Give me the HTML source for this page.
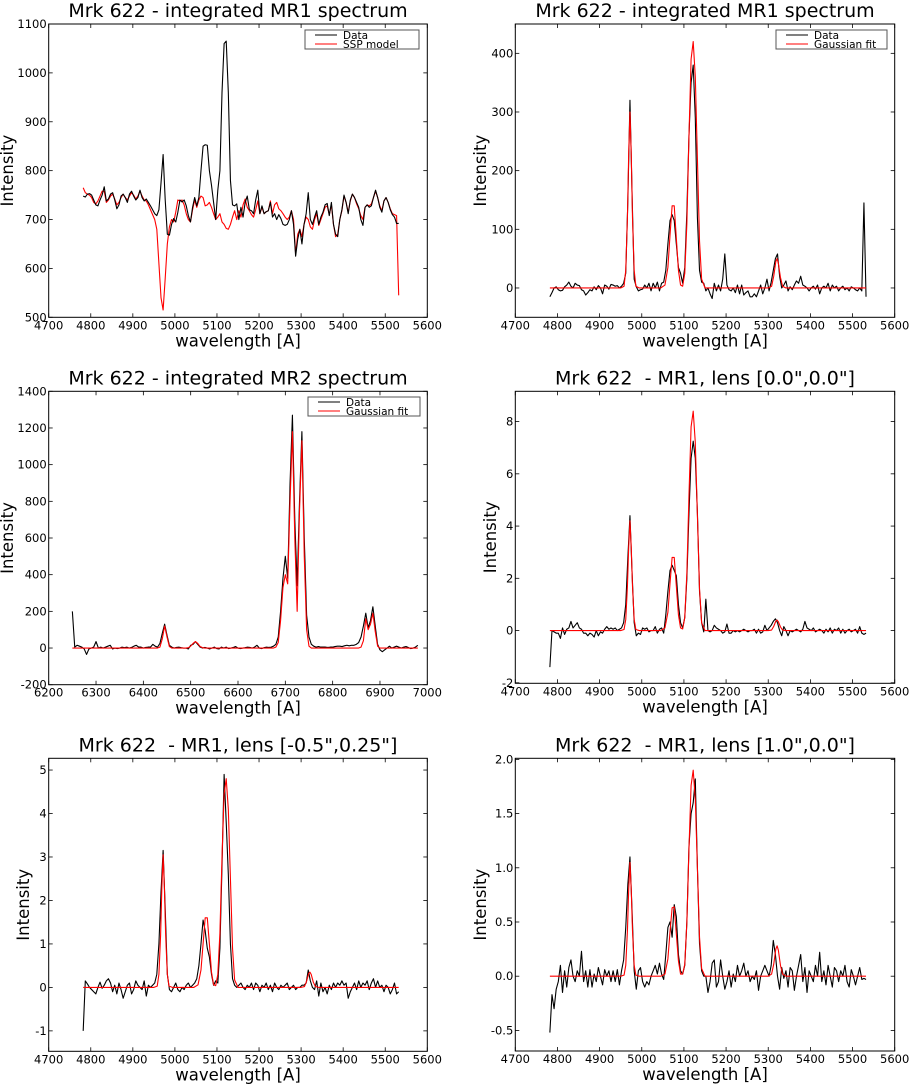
<!DOCTYPE html>
<html><head><meta charset="utf-8">
<style>
html,body{margin:0;padding:0;background:#fff;}
svg{display:block;font-family:"DejaVu Sans","Liberation Sans",sans-serif;}
text{white-space:pre;}
</style></head>
<body>
<svg id="fig" width="910" height="1084" viewBox="0 0 910 1084" xmlns="http://www.w3.org/2000/svg"></svg>
<script>
// Shared wavelength grid for MR1 panels (4782..5532 step 5)
const mr1Wl = [];
for (let w = 4782; w <= 5532; w += 5) mr1Wl.push(w);
// Shared wavelength grid for MR2 panel (6250..6980 step 5)
const mr2Wl = [];
for (let w = 6250; w <= 6980; w += 5) mr2Wl.push(w);
// Sparse wavelengths for Gaussian fits
const fitWl = [4782,4950,4958,4962,4966,4969,4972,4975,4978,4982,4986,4994,5045,5055,5062,5067,5072,5077,5082,5087,5092,5097,5102,5107,5112,5117,5122,5127,5132,5137,5142,5150,5300,5308,5313,5318,5321,5324,5329,5334,5342,5532];

const p1Data = [748,746,752,753,750,740,730,728,740,750, 767,738,742,752,755,740,722,730,748,752, 745,735,752,758,748,740,745,760,745,738, 742,735,728,720,712,708,720,775,833,740, 670,668,690,702,695,715,740,736,740,728, 708,695,725,745,728,745,800,850,853,852, 800,770,735,700,760,800,960,1060,1065,960, 780,730,728,732,700,725,705,735,748,720, 718,712,740,760,712,728,712,716,718,735, 705,712,700,710,702,690,688,690,700,718, 690,625,660,680,650,690,712,755,700,690, 705,718,690,705,715,730,733,708,735,690, 670,665,700,720,750,735,712,740,752,745, 735,725,700,688,725,730,725,728,745,760, 745,725,715,738,745,735,720,710,705,692,692];
const p1Ssp = [765,755,752,750,745,735,732,738,748,758, 758,735,740,748,752,742,730,735,745,752, 745,740,748,755,750,742,748,758,748,740, 738,730,720,710,700,680,610,540,515,580, 650,685,700,695,715,740,738,740,730,712, 700,695,720,740,725,740,748,745,728,730, 735,725,712,700,705,712,695,690,682,680, 690,705,718,700,718,705,730,742,725,718, 710,705,720,738,712,725,712,716,718,738, 712,730,735,722,718,712,705,700,705,718, 700,630,670,680,665,690,705,700,685,680, 700,712,688,700,712,725,728,710,730,690, 665,670,700,718,748,735,715,738,752,745, 732,722,708,700,725,730,728,732,745,758, 745,728,718,738,745,735,722,712,710,708,545];

const p2Data = [-15,-8,0,2,-3,-5,-4,2,5,10, 3,0,8,5,4,-3,-5,-12,-8,-3, -5,2,-3,4,0,-10,5,3,-2,6, 5,3,4,0,3,8,25,150,320,160, 15,2,-5,-3,-2,5,0,8,-5,8, 0,10,-5,8,10,30,75,115,125,115, 75,35,25,8,35,130,260,350,380,290, 120,30,10,8,-5,0,-10,-18,8,-5, 5,-5,15,58,5,-3,-5,0,-8,5, -10,5,-12,-8,-5,-15,-15,-10,-15,-5, 5,-10,0,15,-5,10,30,50,58,20, 0,5,12,-5,2,-3,5,12,8,20, 5,3,0,-5,0,3,-2,5,-10,0, 3,0,8,-5,5,0,3,-5,0,3, -3,0,-5,2,0,-3,-5,0,-5,145,-15];
const p2Fit = [0,0,3,30,120,230,300,230,120,30,3,0, 0,5,35,90,140,140,85,30,5, 3,25,110,260,390,420,360,220,80,15,0, 0,3,20,45,50,42,18,3,0,0];

const p3Data = [200,5,15,10,5,-5,-35,-5,0,5, 35,0,5,0,5,10,15,-5,0,-3, 0,5,2,5,0,3,10,15,5,5, 0,3,5,5,20,10,5,25,80,130, 70,15,5,0,3,5,2,0,0,-5, 15,20,35,20,5,0,3,0,-5,0, 5,-3,-5,5,0,5,-3,0,3,8, 0,-3,0,2,5,3,0,5,15,0, -3,2,5,3,5,10,20,60,200,380, 500,380,900,1270,700,340,800,1180,600,180, 60,20,10,5,8,5,5,5,3,5, 5,8,10,10,8,12,15,12,15,15, 20,30,60,120,190,110,150,225,120,20, -10,-20,-10,0,10,0,5,10,5,0, 5,8,3,-3,0,5,15];
const p3Fit = [0,0,0,0,0,0,0,0,0,0, 0,0,0,0,0,0,0,0,0,0, 0,0,0,0,0,0,0,0,0,0, 0,0,0,0,0,0,0,5,50,120, 60,8,0,0,0,0,0,0,0,2, 10,25,35,25,8,2,0,0,0,0, 0,0,0,0,0,0,0,0,0,0, 0,0,0,0,0,0,0,0,0,0, 0,0,0,0,0,0,5,30,150,330, 400,350,800,1180,600,200,750,1130,500,100, 10,0,0,0,0,0,0,0,0,0, 0,0,0,0,0,0,0,0,0,0, 0,0,5,40,160,100,130,190,90,10, 0,0,0,0,0,0,0,0,0,0, 0,0,0,0,0,0,0];

const p4Data = [-1.4,0.0,-0.05,-0.1,-0.1,-0.3,0.1,-0.15,0.05,0.1, 0.35,0.1,0.2,0.3,0.1,0.05,-0.1,-0.1,-0.2,-0.1, -0.15,-0.25,0.0,-0.2,-0.05,-0.1,0.05,0.15,0.05,0.1, 0.05,0.1,0.0,0.05,0.1,0.3,1.0,2.8,4.4,2.2, 0.3,-0.2,-0.1,-0.15,0.1,0.05,0.1,-0.05,0.0,0.0, 0.15,-0.1,0.05,0.1,-0.1,0.6,1.5,2.3,2.5,2.3, 2.1,1.0,0.3,0.1,0.5,2.0,4.5,6.6,7.25,6.6, 4.5,1.5,0.3,-0.05,1.2,0.0,-0.05,0.0,0.2,0.1, 0.05,0.0,-0.1,-0.05,0.25,-0.1,-0.1,0.0,-0.05,0.0, -0.05,0.0,0.05,0.0,-0.05,0.0,0.0,0.05,-0.1,0.05, -0.1,-0.05,0.2,0.0,0.1,0.2,0.35,0.45,0.3,0.0, -0.2,0.15,0.0,-0.2,0.0,-0.05,0.0,0.05,0.0,-0.05, 0.05,0.35,0.1,0.05,0.0,0.1,-0.05,0.0,0.05,0.0, -0.1,0.05,-0.05,0.1,-0.1,0.05,0.0,0.1,-0.1,0.05, -0.1,0.0,0.05,-0.05,0.0,0.05,-0.1,0.15,-0.1,-0.15,-0.1];
const p4Fit = [0,0,0.04,0.42,1.7,3.2,4.2,3.2,1.7,0.42,0.04,0, 0,0.1,0.7,1.8,2.8,2.8,1.7,0.6,0.1, 0.06,0.5,2.2,5.2,7.8,8.4,7.2,4.4,1.6,0.3,0, 0,0.02,0.16,0.36,0.4,0.34,0.14,0.02,0,0];

const p5Data = [-1.0,0.15,0.08,0.0,-0.05,-0.1,-0.15,0.0,0.12,-0.02, 0.05,0.15,0.2,0.1,-0.1,0.05,-0.15,0.1,-0.05,-0.25, -0.1,0.05,0.1,-0.15,-0.05,0.15,0.05,0.0,-0.05,0.15, -0.2,0.05,0.0,0.05,0.1,0.3,1.0,2.2,3.15,1.8, 0.3,-0.05,-0.1,0.0,0.1,-0.05,-0.1,0.0,-0.05,0.05, 0.1,0.0,0.05,0.1,0.2,0.5,1.0,1.55,1.3,0.9, 0.7,0.3,0.05,0.15,0.1,0.9,2.8,4.9,3.8,2.6, 1.0,0.2,0.05,0.0,0.05,0.1,0.0,-0.05,0.05,0.0, 0.1,-0.05,0.1,0.05,-0.1,0.05,0.0,0.1,-0.05,0.05, -0.1,0.1,0.0,-0.05,0.05,0.0,0.05,0.1,-0.05,0.0, 0.05,-0.05,0.0,0.0,0.05,0.05,0.1,0.4,0.15,0.0, -0.05,0.15,-0.2,0.1,-0.1,0.0,-0.15,0.05,-0.05,0.1, 0.0,0.1,0.05,0.15,0.05,0.1,-0.25,-0.1,0.0,0.1, -0.05,0.15,0.0,0.1,0.05,0.15,-0.05,0.1,0.2,0.0, 0.15,0.0,0.05,-0.1,0.05,0.0,-0.15,-0.05,0.1,-0.15,-0.1];
const p5Fit = [0,0,0.03,0.3,1.2,2.3,3.05,2.3,1.2,0.3,0.03,0, 0,0.06,0.4,1.0,1.6,1.6,1.0,0.35,0.06, 0.04,0.3,1.25,3.0,4.45,4.8,4.1,2.5,0.9,0.17,0, 0,0.02,0.14,0.32,0.35,0.3,0.12,0.02,0,0];

const p6Data = [-0.52,-0.17,-0.3,-0.12,-0.05,0.1,-0.15,0.05,-0.1,0.08, 0.15,0.0,-0.05,0.05,0.0,0.23,-0.05,0.05,-0.1,0.06, -0.1,0.02,-0.05,0.08,0.0,-0.08,0.06,0.0,0.05,-0.05, 0.05,-0.05,0.06,-0.08,0.05,0.15,0.45,0.85,1.1,0.6, 0.05,-0.12,0.05,0.08,-0.05,-0.1,-0.05,-0.08,0.0,0.05, 0.1,0.02,0.12,0.02,-0.03,0.2,0.45,0.5,0.36,0.66, 0.55,0.2,0.05,0.02,0.1,0.5,1.2,1.5,1.6,1.82, 1.0,0.3,0.05,0.0,0.0,-0.15,-0.05,0.12,0.15,-0.1, -0.05,0.15,0.0,-0.12,-0.05,0.05,-0.1,0.02,-0.05,0.1, 0.0,0.05,0.12,0.0,0.05,-0.05,0.0,-0.03,0.05,-0.13, 0.0,0.05,0.1,0.05,0.0,0.1,0.33,0.2,0.0,-0.12, 0.08,-0.02,0.05,-0.1,0.08,0.05,-0.13,0.0,0.1,0.2, -0.05,0.08,-0.15,0.05,0.0,-0.05,0.1,0.0,0.22,-0.05, 0.05,-0.08,0.1,0.0,-0.1,0.08,0.05,-0.05,0.05,0.0, 0.1,-0.05,-0.1,0.06,0.0,-0.08,0.0,0.08,-0.03,-0.02,-0.03];
const p6Fit = [0,0,0.01,0.1,0.42,0.8,1.05,0.8,0.42,0.1,0.01,0, 0,0.02,0.16,0.41,0.63,0.64,0.39,0.14,0.02, 0.02,0.11,0.5,1.18,1.76,1.9,1.63,1.0,0.36,0.07,0, 0,0.02,0.11,0.25,0.28,0.24,0.1,0.02,0,0];

const xTicksMR1 = [4700,4800,4900,5000,5100,5200,5300,5400,5500,5600];
const xTicksMR2 = [6200,6300,6400,6500,6600,6700,6800,6900,7000];
const yTicksP1 = [500,600,700,800,900,1000,1100];
const yTicksP2 = [0,100,200,300,400];
const yTicksP3 = [-200,0,200,400,600,800,1000,1200,1400];
const yTicksP4 = [-2,0,2,4,6,8];
const yTicksP5 = [-1,0,1,2,3,4,5];
const yTicksP6 = [-0.5,0.0,0.5,1.0,1.5,2.0];
const yLabP6 = ["-0.5","0.0","0.5","1.0","1.5","2.0"];

const NS = "http://www.w3.org/2000/svg";
const svg = document.getElementById('fig');
function mk(tag, attrs, parent) {
  const e = document.createElementNS(NS, tag);
  for (const k in attrs) e.setAttribute(k, attrs[k]);
  (parent || svg).appendChild(e);
  return e;
}

function panel(cfg) {
  const g = mk('g', {});
  
  
  const L = cfg.box[0], R = cfg.box[1], T = cfg.box[2], B = cfg.box[3];
  const sx = v => L + (v - cfg.xr[0]) / (cfg.xr[1] - cfg.xr[0]) * (R - L);
  const sy = v => B - (v - cfg.yr[0]) / (cfg.yr[1] - cfg.yr[0]) * (B - T);
  const clipId = cfg.name + '-clip';
  const cp = mk('clipPath', {id: clipId}, g);
  mk('rect', {x: L, y: T, width: R - L, height: B - T}, cp);

  cfg.series.forEach(s => {
    let d = '';
    s.x.forEach((xv, i) => { d += (i ? 'L' : 'M') + sx(xv).toFixed(2) + ',' + sy(s.y[i]).toFixed(2); });
    const p = mk('path', {d: d, fill: 'none', stroke: s.color, 'stroke-width': 1.1, 'stroke-linejoin': 'round', 'clip-path': 'url(#' + clipId + ')'}, g);
    
    
  });

  const fr = mk('rect', {x: L, y: T, width: R - L, height: B - T, fill: 'none', stroke: '#000', 'stroke-width': 1}, g);
  
  

  cfg.xt.forEach(v => {
    const x = sx(v);
    mk('line', {x1: x, x2: x, y1: B, y2: B - 4, stroke: '#000', 'stroke-width': 0.8}, g);
    mk('line', {x1: x, x2: x, y1: T, y2: T + 4, stroke: '#000', 'stroke-width': 0.8}, g);
    const t = mk('text', {x: x, y: B + 12, 'font-size': 11.5, 'text-anchor': 'middle'}, g);
    t.textContent = String(v);
    
    
  });
  cfg.yt.forEach((v, i) => {
    const y = sy(v);
    mk('line', {x1: L, x2: L + 4, y1: y, y2: y, stroke: '#000', 'stroke-width': 0.8}, g);
    mk('line', {x1: R, x2: R - 4, y1: y, y2: y, stroke: '#000', 'stroke-width': 0.8}, g);
    const t = mk('text', {x: L - 2, y: y + 4, 'font-size': 11.5, 'text-anchor': 'end'}, g);
    t.textContent = cfg.yl ? cfg.yl[i] : String(v);
    
    
  });

  const tt = mk('text', {x: (L + R) / 2, y: T - 7, 'font-size': 19, 'text-anchor': 'middle'}, g);
  tt.textContent = cfg.title;
  
  

  const xl = mk('text', {x: (L + R) / 2, y: B + 29, 'font-size': 16.5, 'text-anchor': 'middle'}, g);
  xl.textContent = 'wavelength [A]';
  
  

  const cy = (T + B) / 2;
  const yl = mk('text', {x: cfg.ylx, y: cy, 'font-size': 16.5, 'text-anchor': 'middle', transform: 'rotate(-90 ' + cfg.ylx + ' ' + cy + ')'}, g);
  yl.textContent = 'Intensity';
  
  

  if (cfg.legend) {
    const lg = mk('g', {}, g);
    
    
    const lx = cfg.legend.x, ly = cfg.legend.y, lw = cfg.legend.w;
    mk('rect', {x: lx, y: ly, width: lw, height: 19, fill: '#fff', stroke: '#555', 'stroke-width': 1}, lg);
    cfg.legend.items.forEach((it, i) => {
      const yy = ly + 5 + i * 9;
      mk('line', {x1: lx + 10, x2: lx + 32, y1: yy, y2: yy, stroke: it.color, 'stroke-width': 1}, lg);
      const t = mk('text', {x: lx + 38, y: yy + 4, 'font-size': 10.5}, lg);
      t.textContent = it.label;
      
      
    });
  }
}

panel({name: 'panel-mr1-ssp', box: [48.7, 427.3, 24, 317.3], xr: [4700, 5600], yr: [500, 1100],
  xt: xTicksMR1, yt: yTicksP1, title: 'Mrk 622 - integrated MR1 spectrum', ylx: 13,
  series: [{name: 'ssp-model-line', x: mr1Wl, y: p1Ssp, color: '#ff0000'}, {name: 'data-line', x: mr1Wl, y: p1Data, color: '#000'}],
  legend: {x: 305, y: 30, w: 114, items: [{label: 'Data', color: '#000'}, {label: 'SSP model', color: '#ff0000'}]}});

panel({name: 'panel-mr1-gauss', box: [515.3, 894.7, 24, 317.3], xr: [4700, 5600], yr: [-50, 450],
  xt: xTicksMR1, yt: yTicksP2, title: 'Mrk 622 - integrated MR1 spectrum', ylx: 486,
  series: [{name: 'data-line', x: mr1Wl, y: p2Data, color: '#000'}, {name: 'gaussian-fit-line', x: fitWl, y: p2Fit, color: '#ff0000'}],
  legend: {x: 776, y: 30, w: 111, items: [{label: 'Data', color: '#000'}, {label: 'Gaussian fit', color: '#ff0000'}]}});

panel({name: 'panel-mr2', box: [48.7, 427.3, 391.3, 684.7], xr: [6200, 7000], yr: [-200, 1400],
  xt: xTicksMR2, yt: yTicksP3, title: 'Mrk 622 - integrated MR2 spectrum', ylx: 13,
  series: [{name: 'data-line', x: mr2Wl, y: p3Data, color: '#000'}, {name: 'gaussian-fit-line', x: mr2Wl, y: p3Fit, color: '#ff0000'}],
  legend: {x: 308, y: 397, w: 112, items: [{label: 'Data', color: '#000'}, {label: 'Gaussian fit', color: '#ff0000'}]}});

panel({name: 'panel-lens-0-0', box: [515.3, 894.7, 391.3, 683.3], xr: [4700, 5600], yr: [-2.02, 9.16],
  xt: xTicksMR1, yt: yTicksP4, title: 'Mrk 622  - MR1, lens [0.0",0.0"]', ylx: 496,
  series: [{name: 'data-line', x: mr1Wl, y: p4Data, color: '#000'}, {name: 'gaussian-fit-line', x: fitWl, y: p4Fit, color: '#ff0000'}]});

panel({name: 'panel-lens-m05-025', box: [48.7, 427.3, 758.3, 1051.3], xr: [4700, 5600], yr: [-1.47, 5.27],
  xt: xTicksMR1, yt: yTicksP5, title: 'Mrk 622  - MR1, lens [-0.5",0.25"]', ylx: 29,
  series: [{name: 'data-line', x: mr1Wl, y: p5Data, color: '#000'}, {name: 'gaussian-fit-line', x: fitWl, y: p5Fit, color: '#ff0000'}]});

panel({name: 'panel-lens-1-0', box: [515.3, 894.7, 758.3, 1051], xr: [4700, 5600], yr: [-0.69, 2.01],
  xt: xTicksMR1, yt: yTicksP6, yl: yLabP6, title: 'Mrk 622  - MR1, lens [1.0",0.0"]', ylx: 486,
  series: [{name: 'data-line', x: mr1Wl, y: p6Data, color: '#000'}, {name: 'gaussian-fit-line', x: fitWl, y: p6Fit, color: '#ff0000'}]});
</script>
</body></html>
